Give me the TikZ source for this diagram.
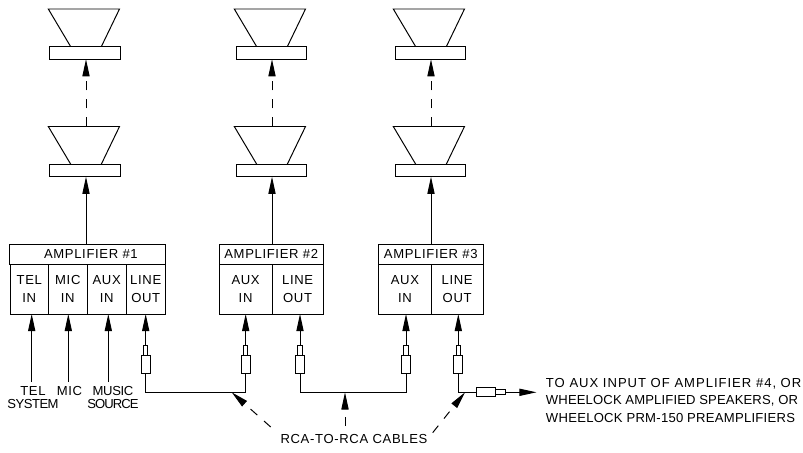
\documentclass[tikz,border=0pt]{standalone}
\usepackage{fontspec}
\usepackage{tikz}
\usetikzlibrary{arrows.meta,positioning}
\newfontfamily\cadfont[LetterSpace=5]{Liberation Sans}
\tikzset{
  txt/.style={font=\cadfont\fontsize{9.3}{12.6}\selectfont, align=center, inner sep=0pt},
  txtl/.style={txt, align=left, anchor=west},
  title/.style={draw, txt, line width=0.7pt, minimum height=0.5cm, outer sep=0pt},
  port/.style={draw, txt, line width=0.7pt, minimum height=1.25cm, outer sep=0pt},
  magnet/.style={draw, line width=0.7pt, minimum width=1.75cm, minimum height=0.3125cm, inner sep=0pt, outer sep=0pt},
  plugbody/.style={draw, line width=0.7pt, minimum width=0.23cm, minimum height=0.47cm, inner sep=0pt, outer sep=0pt},
  plugtip/.style={draw, line width=0.7pt, minimum width=0.11cm, minimum height=0.23cm, inner sep=0pt, outer sep=0pt},
  wire/.style={line width=0.7pt},
  sig/.style={wire, -{Triangle[length=0.43cm,width=0.18cm]}},
  dashsig/.style={sig, dash pattern=on 0.225cm off 0.225cm},
  speaker/.pic={
    \node[magnet] (-mag) at (-1,0) {};
    \coordinate (-top) at (0,-44);
    \draw[wire] (-15.3,-6.3) -- (-37.7,-44) -- (33.5,-44) -- (15.3,-6.3);
  }
}
\begin{document}
\begin{tikzpicture}[x=0.025cm,y=-0.025cm]
  \useasboundingbox (0,0) rectangle (803,453);
  % Amplifier #1
  \node[title, minimum width=3.875cm] (amp1) at (87.5,254) {\hspace*{0.17cm}AMPLIFIER \#1};
  \node[port, minimum width=0.965cm] (tel1) at (29.3,289) {TEL\\IN};
  \node[port, minimum width=0.96cm, right=0pt of tel1] (mic1) {MIC\\IN};
  \node[port, minimum width=0.985cm, right=0pt of mic1] (aux1) {AUX\\IN};
  \node[port, minimum width=0.965cm, right=0pt of aux1] (out1) {LINE\\OUT};
  % Amplifier #2
  \node[title, minimum width=2.6cm] (amp2) at (271.2,254) {AMPLIFIER \#2};
  \node[port, minimum width=1.32cm] (aux2) at (245.6,289) {AUX\\IN};
  \node[port, minimum width=1.28cm, right=0pt of aux2] (out2) {LINE\\OUT};
  % Amplifier #3
  \node[title, minimum width=2.6125cm] (amp3) at (430.75,254) {AMPLIFIER \#3};
  \node[port, minimum width=1.32cm] (aux3) at (404.9,289) {AUX\\IN};
  \node[port, minimum width=1.2925cm, right=0pt of aux3] (out3) {LINE\\OUT};
  % Speakers
  \pic (s1a) at (86,53) {speaker};
  \pic (s1b) at (86,170.5) {speaker};
  \pic (s2a) at (272,53) {speaker};
  \pic (s2b) at (272,170.5) {speaker};
  \pic (s3a) at (431,53) {speaker};
  \pic (s3b) at (431,170.5) {speaker};
  \draw[sig] (s1b-top |- amp1.north) -- (s1b-top |- s1b-mag.south);
  \draw[sig] (s2b-top |- amp2.north) -- (s2b-top |- s2b-mag.south);
  \draw[sig] (s3b-top |- amp3.north) -- (s3b-top |- s3b-mag.south);
  \draw[dashsig] (s1b-top) -- (s1b-top |- s1a-mag.south);
  \draw[dashsig] (s2b-top) -- (s2b-top |- s2a-mag.south);
  \draw[dashsig] (s3b-top) -- (s3b-top |- s3a-mag.south);
  % Plugs
  \node[plugbody] (pb1) at (145.7,364.5) {};
  \node[plugtip, above=0pt of pb1] (pt1) {};
  \node[plugbody] (pb2) at (245.7,364.5) {};
  \node[plugtip, above=0pt of pb2] (pt2) {};
  \node[plugbody] (pb3) at (300,364.5) {};
  \node[plugtip, above=0pt of pb3] (pt3) {};
  \node[plugbody] (pb4) at (406,364.5) {};
  \node[plugtip, above=0pt of pb4] (pt4) {};
  \node[plugbody] (pb5) at (458.3,364.5) {};
  \node[plugtip, above=0pt of pb5] (pt5) {};
  \node[plugbody, minimum width=0.46cm, minimum height=0.22cm] (pb6) at (486,392.3) {};
  \node[plugtip, minimum width=0.25cm, minimum height=0.12cm, right=0pt of pb6] (pt6) {};
  \draw[sig] (pt1.north) -- (pt1.north |- out1.south);
  \draw[sig] (pt2.north) -- (pt2.north |- aux2.south);
  \draw[sig] (pt3.north) -- (pt3.north |- out2.south);
  \draw[sig] (pt4.north) -- (pt4.north |- aux3.south);
  \draw[sig] (pt5.north) -- (pt5.north |- out3.south);
  % Cables
  \coordinate (k1) at (145.7,392.3);
  \coordinate (k2) at (245.7,392.3);
  \coordinate (k3) at (300,392.3);
  \coordinate (k4) at (406,392.3);
  \coordinate (k5) at (458.3,392.3);
  \coordinate (k6) at (345,392.3);
  \coordinate (k7) at (231.7,392.3);
  \coordinate (k8) at (465,392.3);
  \coordinate (e1) at (536.5,392.3);
  \draw[wire] (pb1.south) -- (k1) -- (k2) -- (pb2.south);
  \draw[wire] (pb3.south) -- (k3) -- (k4) -- (pb4.south);
  \draw[wire] (pb5.south) -- (k5) -- (pb6.west);
  \draw[sig] (pt6.east) -- (e1);
  % Inputs
  \node[txt] (tel) at (33,397.5) {TEL\\[-3pt]\addfontfeature{LetterSpace=-4}SYSTEM};
  \node[txt] (mic) at (69.5,391) {MIC};
  \node[txt] (mus) at (113,397.5) {\addfontfeature{LetterSpace=-3}MUSIC\\[-3pt]\addfontfeature{LetterSpace=-7}SOURCE};
  \coordinate (i1) at (31.7,382);
  \coordinate (i2) at (68.3,382);
  \coordinate (i3) at (108.3,382);
  \draw[sig] (i1) -- (i1 |- tel1.south);
  \draw[sig] (i2) -- (i2 |- mic1.south);
  \draw[sig] (i3) -- (i3 |- aux1.south);
  % Cable labels
  \node[txt] (rca) at (354,439) {RCA-TO-RCA CABLES};
  \coordinate (p1) at (270.7,427);
  \coordinate (p2) at (345,426);
  \coordinate (p3) at (432.7,432.7);
  \draw[dashsig] (p1) -- (k7);
  \draw[dashsig] (p2) -- (k6);
  \draw[dashsig] (p3) -- (k8);
  % Note
  \node[txtl] (n1) at (545.7,383.3) {\addfontfeature{LetterSpace=7.5}TO AUX INPUT OF AMPLIFIER \#4, OR};
  \node[txtl] (n2) at (545.7,401) {\addfontfeature{LetterSpace=1}WHEELOCK AMPLIFIED SPEAKERS, OR};
  \node[txtl] (n3) at (545.7,418.3) {\addfontfeature{LetterSpace=2}WHEELOCK PRM-150 PREAMPLIFIERS};
\end{tikzpicture}
\end{document}
